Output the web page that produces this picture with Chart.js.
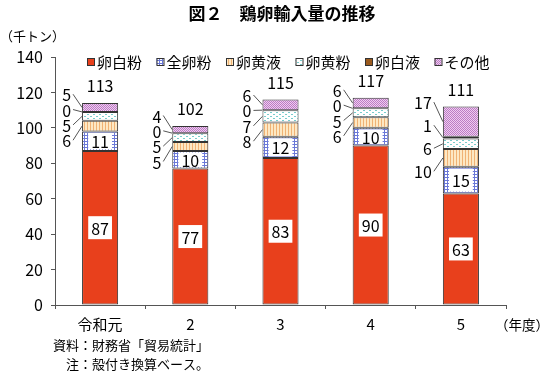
<!DOCTYPE html>
<html>
<head>
<meta charset="utf-8">
<script src="https://cdn.jsdelivr.net/npm/chart.js@4.4.1/dist/chart.umd.min.js"></script>
<style>
  html, body { margin: 0; padding: 0; background: #fff; }
  #wrap { width: 550px; height: 375px; }
</style>
</head>
<body>
<div id="wrap"><canvas id="eggChart" width="550" height="375"></canvas></div>
<script>
// データ（千トン）
const categories = ['令和元', '2', '3', '4', '5'];
const seriesNames = ['卵白粉', '全卵粉', '卵黄液', '卵黄粉', '卵白液', 'その他'];
const eggWhitePowder = [87, 77, 83, 90, 63];
const wholeEggPowder = [11, 10, 12, 10, 15];
const yolkLiquid = [6, 5, 8, 6, 10];
const yolkPowder = [5, 5, 7, 5, 6];
const whiteLiquid = [0, 0, 0, 0, 1];
const others = [5, 4, 6, 6, 17];
const totals = [113, 102, 115, 117, 111];
const yTicks = [0, 20, 40, 60, 80, 100, 120, 140];

const NUM_FONT = '"Noto Sans CJK JP", sans-serif';
const JP_FONT = '"Noto Sans CJK JP", sans-serif';

const canvas = document.getElementById('eggChart');
const ctx = canvas.getContext('2d');

// 模様
function makePattern(w, h, draw) {
    const tile = document.createElement('canvas');
    tile.width = w;
    tile.height = h;
    draw(tile.getContext('2d'));
    return ctx.createPattern(tile, 'repeat');
}

const bluePattern = makePattern(3, 3, g => {
    g.fillStyle = '#ffffff'; g.fillRect(0, 0, 3, 3);
    g.fillStyle = '#6a78d8'; g.fillRect(0, 0, 3, 1); g.fillRect(0, 0, 1, 3);
});
const stripePattern = makePattern(3, 1, g => {
    g.fillStyle = '#fde8c4'; g.fillRect(0, 0, 3, 1);
    g.fillStyle = '#f0b274'; g.fillRect(0, 0, 1, 1);
});
const dotPattern = makePattern(6, 4, g => {
    g.fillStyle = '#ffffff'; g.fillRect(0, 0, 6, 4);
    g.fillStyle = '#78cccc'; g.fillRect(0, 0, 2, 1); g.fillRect(3, 2, 2, 1);
});
const pinkPattern = makePattern(2, 2, g => {
    g.fillStyle = '#f0ccf0'; g.fillRect(0, 0, 2, 2);
    g.fillStyle = '#bb7cc4'; g.fillRect(0, 0, 1, 1); g.fillRect(1, 1, 1, 1);
});

const fills = ['#e8401c', bluePattern, stripePattern, dotPattern, '#9a5a1e', pinkPattern];
const seriesValues = [eggWhitePowder, wholeEggPowder, yolkLiquid, yolkPowder, whiteLiquid, others];

// ラベル・凡例・注記
const annotate = {
    id: 'annotate',
    afterDatasetsDraw(chart) {
        const c = chart.ctx;
        c.save();
        c.fillStyle = '#000';

        // 数値ラベル
        for (let i = 0; i < categories.length; i++) {
            const bar0 = chart.getDatasetMeta(0).data[i];
            const bar1 = chart.getDatasetMeta(1).data[i];
            const left = bar0.x - bar0.width / 2;

            c.font = '16px ' + NUM_FONT;
            c.textAlign = 'center';
            c.textBaseline = 'middle';
            [[bar0, eggWhitePowder[i]], [bar1, wholeEggPowder[i]]].forEach(([b, v]) => {
                const cy = (b.y + b.base) / 2;
                const tw = c.measureText(String(v)).width + 6;
                const th = Math.min(23, Math.abs(b.base - b.y) - 3);
                c.fillStyle = '#fff';
                c.fillRect(b.x - tw / 2, cy - th / 2, tw, th);
                c.fillStyle = '#000';
                c.fillText(String(v), b.x, cy + 1);
            });

            // 左側のラベル（引き出し線つき）
            const segs = [];
            for (let d = 2; d < 6; d++) segs.push(chart.getDatasetMeta(d).data[i]);
            const lowY = segs[0].base;
            const highY = segs[3].y;
            const spread = Math.max(46, (lowY - highY) + 9);
            const mid = (lowY + highY) / 2;
            c.textAlign = 'right';
            c.strokeStyle = '#555';
            c.lineWidth = 1;
            segs.forEach((b, k) => {
                const cy = (b.y + b.base) / 2;
                const ly = mid + spread / 2 - k * spread / 3;
                const lx = left - 11;
                c.fillText(String(seriesValues[k + 2][i]), lx, ly + 1);
                c.beginPath();
                c.moveTo(lx + 2, ly);
                c.lineTo(left, cy);
                c.stroke();
            });

            // 合計
            const topBar = segs[3];
            c.textAlign = 'center';
            c.fillText(String(totals[i]), bar0.x, topBar.y - 17);
        }

        // 凡例
        c.font = '15px ' + JP_FONT;
        c.textAlign = 'left';
        c.textBaseline = 'middle';
        seriesNames.forEach((name, k) => {
            const x = 87 + k * 69.5;
            const y = 62;
            c.fillStyle = fills[k];
            c.fillRect(x, y - 4, 7, 7);
            c.strokeStyle = '#333';
            c.strokeRect(x + 0.5, y - 3.5, 7, 7);
            c.fillStyle = '#000';
            c.fillText(name, x + 10, y);
        });

        // タイトル・単位・注記
        c.font = 'bold 17px ' + JP_FONT;
        c.textAlign = 'center';
        c.fillText('図２　鶏卵輸入量の推移', 282, 14);
        c.font = '13px ' + JP_FONT;
        c.textAlign = 'left';
        c.fillText('（千トン）', 0, 36);
        c.font = '13.5px ' + JP_FONT;
        c.fillText('（年度）', 495, 325);
        c.font = '13px ' + JP_FONT;
        c.fillText('資料：財務省「貿易統計」', 53, 345);
        c.fillText('注：殻付き換算ベース。', 66, 364);
        c.restore();
    }
};

const datasets = seriesNames.map((name, k) => ({
    label: name,
    data: seriesValues[k],
    backgroundColor: fills[k],
    borderColor: '#333',
    borderWidth: 1,
    borderSkipped: false,
    categoryPercentage: 1,
    barPercentage: 0.4
}));

const eggChart = new Chart(ctx, {
    type: 'bar',
    data: { labels: categories, datasets: datasets },
    options: {
        responsive: false,
        animation: false,
        devicePixelRatio: 1,
        layout: { padding: { top: 57, right: 44, bottom: 0, left: 0 } },
        plugins: {
            legend: { display: false },
            tooltip: { enabled: false }
        },
        scales: {
            x: {
                stacked: true,
                afterFit: s => { s.height = 70; },
                grid: { drawOnChartArea: false, offset: true, tickLength: 4, color: '#555' },
                border: { color: '#555' },
                ticks: { color: '#000', padding: 6, font: { family: JP_FONT, size: 15 } }
            },
            y: {
                stacked: true,
                min: 0,
                max: 140,
                afterFit: s => { s.width = 55; },
                afterBuildTicks: s => { s.ticks = yTicks.map(v => ({ value: v })); },
                grid: { drawOnChartArea: false, tickLength: 4, color: '#555' },
                border: { color: '#555' },
                ticks: { color: '#000', padding: 8, font: { family: NUM_FONT, size: 16 } }
            }
        }
    },
    plugins: [annotate]
});
</script>
</body>
</html>
